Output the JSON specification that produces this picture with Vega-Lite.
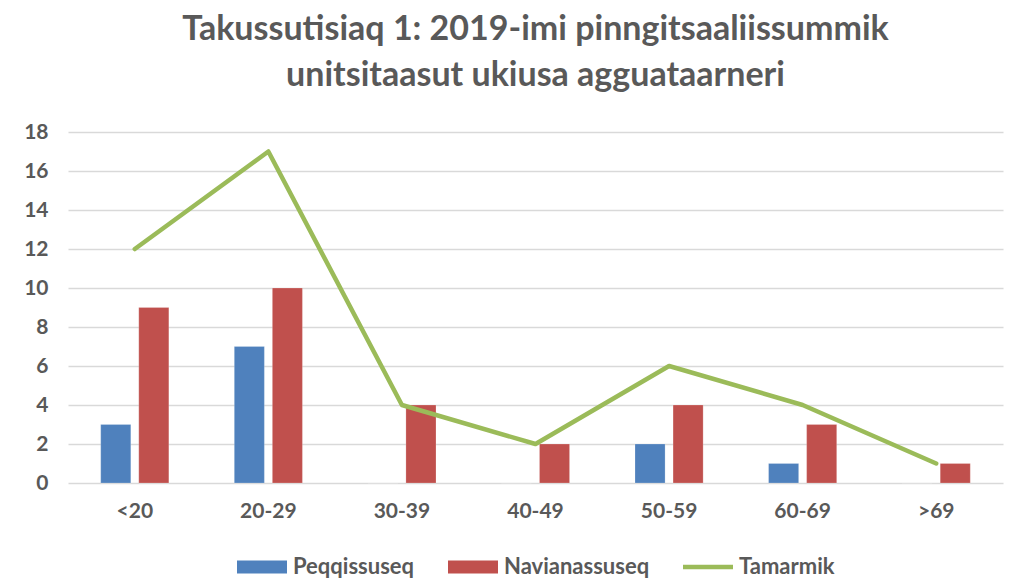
{
  "$schema": "https://vega.github.io/schema/vega-lite/v6.json",
  "width": 935,
  "height": 351,
  "padding": {"left": 23, "top": 13, "right": 18, "bottom": 5},
  "background": "white",
  "title": {
    "text": ["Takussutisiaq 1: 2019-imi pinngitsaaliissummik", "unitsitaasut ukiusa agguataarneri"],
    "font": "Lato",
    "fontSize": 34,
    "fontWeight": "bold",
    "color": "#595959",
    "lineHeight": 46,
    "anchor": "middle",
    "offset": 28
  },
  "config": {
    "view": {"stroke": null},
    "font": "Lato",
    "axis": {
      "labelFont": "Lato",
      "labelColor": "#595959",
      "labelFontSize": 21,
      "labelFontWeight": "bold",
      "ticks": false,
      "domain": false,
      "title": null
    },
    "legend": {
      "layout": {"bottom": {"anchor": "middle"}}
    }
  },
  "data": {
    "values": [
      {"category": "<20", "series": "Peqqissuseq", "value": 3},
      {"category": "<20", "series": "Navianassuseq", "value": 9},
      {"category": "<20", "series": "Tamarmik", "value": 12},
      {"category": "20-29", "series": "Peqqissuseq", "value": 7},
      {"category": "20-29", "series": "Navianassuseq", "value": 10},
      {"category": "20-29", "series": "Tamarmik", "value": 17},
      {"category": "30-39", "series": "Peqqissuseq", "value": 0},
      {"category": "30-39", "series": "Navianassuseq", "value": 4},
      {"category": "30-39", "series": "Tamarmik", "value": 4},
      {"category": "40-49", "series": "Peqqissuseq", "value": 0},
      {"category": "40-49", "series": "Navianassuseq", "value": 2},
      {"category": "40-49", "series": "Tamarmik", "value": 2},
      {"category": "50-59", "series": "Peqqissuseq", "value": 2},
      {"category": "50-59", "series": "Navianassuseq", "value": 4},
      {"category": "50-59", "series": "Tamarmik", "value": 6},
      {"category": "60-69", "series": "Peqqissuseq", "value": 1},
      {"category": "60-69", "series": "Navianassuseq", "value": 3},
      {"category": "60-69", "series": "Tamarmik", "value": 4},
      {"category": ">69", "series": "Peqqissuseq", "value": 0},
      {"category": ">69", "series": "Navianassuseq", "value": 1},
      {"category": ">69", "series": "Tamarmik", "value": 1}
    ]
  },
  "encoding": {
    "x": {
      "field": "category",
      "type": "nominal",
      "sort": ["<20", "20-29", "30-39", "40-49", "50-59", "60-69", ">69"],
      "scale": {"paddingInner": 0.49, "paddingOuter": 0.245},
      "axis": {"labelAngle": 0, "labelPadding": 17}
    },
    "y": {
      "field": "value",
      "type": "quantitative",
      "scale": {"domain": [0, 18], "nice": false},
      "axis": {
        "values": [0, 2, 4, 6, 8, 10, 12, 14, 16, 18],
        "grid": true,
        "gridColor": "#d9d9d9",
        "gridWidth": 1.5,
        "labelPadding": 20
      }
    }
  },
  "layer": [
    {
      "transform": [{"filter": "datum.series !== 'Tamarmik'"}],
      "mark": {"type": "bar", "stroke": "#ffffff", "strokeOpacity": 0.4, "strokeWidth": 0.5},
      "encoding": {
        "xOffset": {
          "field": "series",
          "type": "nominal",
          "sort": ["Peqqissuseq", "Navianassuseq"],
          "scale": {"domain": ["Peqqissuseq", "Navianassuseq"], "paddingInner": 0.21, "paddingOuter": 0}
        },
        "color": {
          "field": "series",
          "type": "nominal",
          "scale": {
            "domain": ["Peqqissuseq", "Navianassuseq", "Tamarmik"],
            "range": ["#4f81bd", "#c0504d", "#9bbb59"]
          },
          "legend": {
            "title": null,
            "orient": "bottom",
            "direction": "horizontal",
            "offset": 21,
            "labelFont": "Lato",
            "labelFontSize": 22,
            "labelFontWeight": "bold",
            "labelColor": "#595959",
            "labelOffset": 6,
            "columnPadding": 33,
            "symbolSize": 2500,
            "symbolType": "M-1,-0.26H1V0.26H-1Z",
            "symbolStrokeWidth": 0,
            "symbolOpacity": 1,
            "encode": {
              "symbols": {
                "update": {
                  "shape": {"signal": "datum.value === 'Tamarmik' ? 'M-1,-0.09H1V0.09H-1Z' : 'M-1,-0.26H1V0.26H-1Z'"},
                  "fill": {"scale": "color", "field": "value"},
                  "strokeWidth": {"value": 0},
                  "opacity": {"value": 1}
                }
              }
            }
          }
        }
      }
    },
    {
      "transform": [{"filter": "datum.series === 'Tamarmik'"}],
      "mark": {"type": "line", "strokeWidth": 4.5, "strokeJoin": "round", "strokeCap": "round"},
      "encoding": {
        "color": {
          "field": "series",
          "type": "nominal",
          "scale": {
            "domain": ["Peqqissuseq", "Navianassuseq", "Tamarmik"],
            "range": ["#4f81bd", "#c0504d", "#9bbb59"]
          },
          "legend": {
            "title": null,
            "orient": "bottom",
            "direction": "horizontal",
            "offset": 21,
            "labelFont": "Lato",
            "labelFontSize": 22,
            "labelFontWeight": "bold",
            "labelColor": "#595959",
            "labelOffset": 6,
            "columnPadding": 33,
            "symbolSize": 2500,
            "symbolType": "M-1,-0.26H1V0.26H-1Z",
            "symbolStrokeWidth": 0,
            "symbolOpacity": 1,
            "encode": {
              "symbols": {
                "update": {
                  "shape": {"signal": "datum.value === 'Tamarmik' ? 'M-1,-0.09H1V0.09H-1Z' : 'M-1,-0.26H1V0.26H-1Z'"},
                  "fill": {"scale": "color", "field": "value"},
                  "strokeWidth": {"value": 0},
                  "opacity": {"value": 1}
                }
              }
            }
          }
        }
      }
    }
  ]
}
